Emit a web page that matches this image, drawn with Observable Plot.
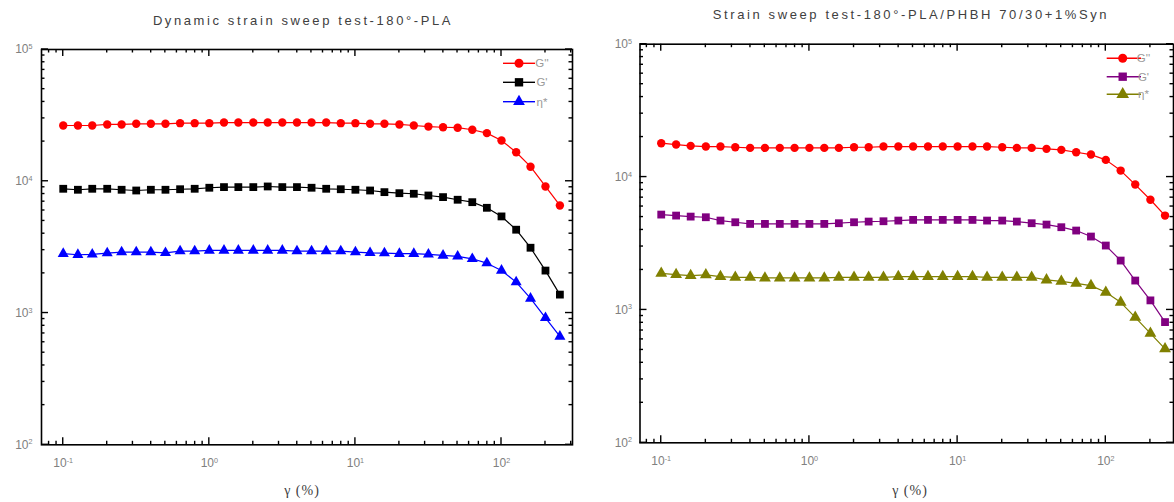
<!DOCTYPE html>
<html><head><meta charset="utf-8">
<script src="https://cdn.jsdelivr.net/npm/d3@7"></script>
<script src="https://cdn.jsdelivr.net/npm/@observablehq/plot@0.6"></script>
<style>
body{margin:0;background:#fff;}
#wrap{display:flex;width:1174px;height:502px;overflow:hidden;}
#wrap svg{display:block;overflow:visible;flex:none}
</style></head><body><div id="wrap"></div>
<script>
// ---- data ----
const strain = [0.1, 0.126, 0.158, 0.2, 0.251, 0.316, 0.398, 0.501, 0.631, 0.794,
  1, 1.26, 1.58, 2, 2.51, 3.16, 3.98, 5.01, 6.31, 7.94,
  10, 12.6, 15.8, 20, 25.1, 31.6, 39.8, 50.1, 63.1, 79.4,
  100, 126, 158, 200, 251];

const plaGpp = [26500, 26500, 26500, 27000, 27000, 27300, 27300, 27300, 27600, 27600,
  27600, 27900, 27900, 27900, 27900, 27900, 27900, 27900, 27900, 27600,
  27600, 27300, 27300, 27000, 26500, 26000, 25700, 25500, 24600, 23200,
  20400, 16600, 12900, 9130, 6550];
const plaGp = [8770, 8620, 8770, 8770, 8620, 8510, 8620, 8620, 8700, 8770,
  8930, 9030, 9030, 9030, 9130, 9030, 9030, 8930, 8770, 8700,
  8620, 8510, 8270, 8120, 8040, 7800, 7580, 7240, 6940, 6290,
  5410, 4290, 3130, 2100, 1380];
const plaEta = [2820, 2770, 2785, 2850, 2900, 2900, 2900, 2865, 2950, 2950,
  2985, 2985, 2985, 2985, 2985, 2985, 2950, 2950, 2950, 2950,
  2900, 2865, 2850, 2820, 2820, 2785, 2735, 2690, 2580, 2390,
  2105, 1716, 1290, 920, 664];

const blendGpp = [17980, 17570, 17170, 16970, 16970, 16770, 16580, 16580, 16580, 16580,
  16580, 16580, 16580, 16770, 16770, 16970, 16970, 16970, 16970, 16970,
  16970, 16970, 16970, 16770, 16580, 16580, 16300, 16020, 15380, 14770,
  13470, 11190, 8780, 6750, 5130];
const blendGp = [5220, 5130, 5040, 4984, 4705, 4570, 4440, 4440, 4440, 4440,
  4440, 4440, 4494, 4570, 4624, 4650, 4705, 4760, 4760, 4760,
  4760, 4760, 4705, 4705, 4624, 4494, 4390, 4194, 3958, 3567,
  3052, 2353, 1664, 1180, 810];
const blendEta = [1887, 1844, 1813, 1834, 1781, 1761, 1761, 1740, 1740, 1740,
  1740, 1740, 1761, 1761, 1761, 1761, 1781, 1781, 1781, 1781,
  1781, 1781, 1761, 1761, 1761, 1761, 1681, 1643, 1587, 1524,
  1358, 1141, 880, 667, 509];

const seriesNames = ["G''", "G'", "η*"];
const titles = ["Dynamic strain sweep test-180°-PLA", "Strain sweep test-180°-PLA/PHBH 70/30+1%Syn"];
const xAxisLabel = "γ (%)";
const xMajor = [0.1, 1, 10, 100];
const xMajorExp = ["-1", "0", "1", "2"];
const yMajor = [100, 1000, 10000, 100000];
const yMajorExp = ["2", "3", "4", "5"];

// minor ticks (2..9 x each decade)
const minorOf = (lo, hi) => {
  const out = [];
  for (let e = lo; e <= hi; e++) for (let m = 2; m <= 9; m++) out.push(m * Math.pow(10, e));
  return out;
};

const FONT = "'Liberation Sans', Arial, sans-serif";

function makePanel(cfg) {
  const xs = cfg.xDomain, ys = cfg.yDomain;
  const xMinor = minorOf(-2, 2).filter(v => v >= xs[0] && v <= xs[1]);
  const yMinor = minorOf(2, 4).filter(v => v >= ys[0] && v <= ys[1]);
  const xMaj = xMajor.filter(v => v >= xs[0] && v <= xs[1]);
  const marks = [];
  // tick labels
  marks.push(Plot.axisX(xMaj, {anchor: "bottom", tickSize: 0, tickPadding: 14, fill: "#808080", fontSize: 12, label: null,
    tickFormat: d => "10^" + xMajorExp[xMajor.indexOf(d)]}));
  marks.push(Plot.axisY(yMajor, {anchor: "left", tickSize: 0, tickPadding: cfg.yPad, fill: "#808080", fontSize: 12, label: null,
    tickFormat: d => "10^" + yMajorExp[yMajor.indexOf(d)]}));
  // data
  cfg.series.forEach((vals, s) => {
    const rows = vals.map((v, i) => ({x: strain[i], y: v}));
    marks.push(Plot.line(rows, {x: "x", y: "y", stroke: cfg.colors[s], strokeWidth: 1.2}));
    marks.push(Plot.dot(rows, {x: "x", y: "y", symbol: cfg.symbols[s], r: cfg.radii[s], fill: cfg.colors[s], stroke: "none"}));
  });
  marks.push(Plot.frame({stroke: "#000", strokeWidth: 1.6}));

  const svg = Plot.plot({
    width: cfg.width, height: 502,
    marginLeft: cfg.margins[0], marginRight: cfg.margins[1], marginTop: cfg.margins[2], marginBottom: cfg.margins[3],
    x: {type: "log", domain: xs},
    y: {type: "log", domain: ys},
    style: {fontFamily: FONT, background: "white", overflow: "visible"},
    marks
  });

  // superscripts for tick labels
  d3.select(svg).selectAll("text").each(function () {
    const m = /^(\d+)\^(.+)$/.exec(this.textContent);
    if (!m) return;
    const t = d3.select(this);
    t.text(null);
    t.append("tspan").text(m[1]);
    t.append("tspan").attr("dy", "-0.6em").attr("font-size", "0.6em").text(m[2]);
  });

  const root = d3.select(svg);
  // inward ticks on all four sides, positioned with the plot's own scales
  const sx = svg.scale("x"), sy = svg.scale("y");
  const [xl, xr] = sx.range, [yb, yt] = sy.range;
  const tg = root.append("g").attr("stroke", "#000").attr("stroke-width", 1.4);
  for (const [ticks, len] of [[xMinor, 3.5], [xMaj, 7]]) {
    for (const v of ticks) {
      const px = sx.apply(v);
      tg.append("line").attr("x1", px).attr("x2", px).attr("y1", yb).attr("y2", yb - len);
      tg.append("line").attr("x1", px).attr("x2", px).attr("y1", yt).attr("y2", yt + len);
    }
  }
  for (const [ticks, len] of [[yMinor, 3.5], [yMajor, 7]]) {
    for (const v of ticks) {
      const py = sy.apply(v);
      tg.append("line").attr("y1", py).attr("y2", py).attr("x1", xl).attr("x2", xl + len);
      tg.append("line").attr("y1", py).attr("y2", py).attr("x1", xr).attr("x2", xr - len);
    }
  }
  // title
  root.append("text").attr("x", cfg.titleX).attr("y", cfg.titleY).attr("text-anchor", "middle")
    .attr("font-family", FONT).attr("font-size", 13).attr("letter-spacing", "2.6px").attr("fill", "#404040")
    .text(cfg.title);
  // x axis label
  root.append("text").attr("x", cfg.xLabelX).attr("y", 495).attr("text-anchor", "middle")
    .attr("font-family", "'Liberation Serif', 'Times New Roman', serif").attr("font-size", 14).attr("letter-spacing", "1px").attr("fill", "#404040")
    .text(xAxisLabel);
  // legend
  const lg = root.append("g");
  const L = cfg.legend;
  seriesNames.forEach((name, i) => {
    const y = L.ys[i];
    lg.append("line").attr("x1", L.x0).attr("x2", L.x1).attr("y1", y).attr("y2", y)
      .attr("stroke", cfg.colors[i]).attr("stroke-width", 1.4);
    const sym = {circle: d3.symbolCircle, square: d3.symbolSquare, triangle: d3.symbolTriangle}[cfg.symbols[i]];
    lg.append("path").attr("transform", `translate(${L.xm},${y})`)
      .attr("d", d3.symbol(sym, Math.PI * cfg.radii[i] * cfg.radii[i] * 1.15)()).attr("fill", cfg.colors[i]);
    lg.append("text").attr("x", L.xt).attr("y", y).attr("dy", "0.35em").attr("font-family", FONT)
      .attr("font-size", 11.5).attr("fill", "#9a9a9a").text(name);
  });
  return svg;
}

const wrap = document.getElementById("wrap");
wrap.appendChild(makePanel({
  width: 587, margins: [41, 15, 49, 57.7],
  xDomain: [0.0710, 306.2], yDomain: [100, 100000],
  series: [plaGpp, plaGp, plaEta],
  colors: ["#ff0000", "#000000", "#0000ff"],
  symbols: ["circle", "square", "triangle"],
  radii: [4.2, 4.4, 4.1],
  yPad: 9,
  title: titles[0], titleX: 303, titleY: 25,
  xLabelX: 302,
  legend: {x0: 503, x1: 535, xm: 519, xt: 542, ys: [63.3, 82.3, 101.7]}
}));
wrap.appendChild(makePanel({
  width: 587, margins: [52.5, 1, 43.7, 59.7],
  xDomain: [0.0719, 286.3], yDomain: [100, 100000],
  series: [blendGpp, blendGp, blendEta],
  colors: ["#ff0000", "#800080", "#808000"],
  symbols: ["circle", "square", "triangle"],
  radii: [4.2, 4.4, 4.4],
  yPad: 8,
  title: titles[1], titleX: 324, titleY: 19,
  xLabelX: 323,
  legend: {x0: 519.7, x1: 554, xm: 535.7, xt: 556.5, ys: [58.3, 76.7, 94.3]}
}));
</script></body></html>
